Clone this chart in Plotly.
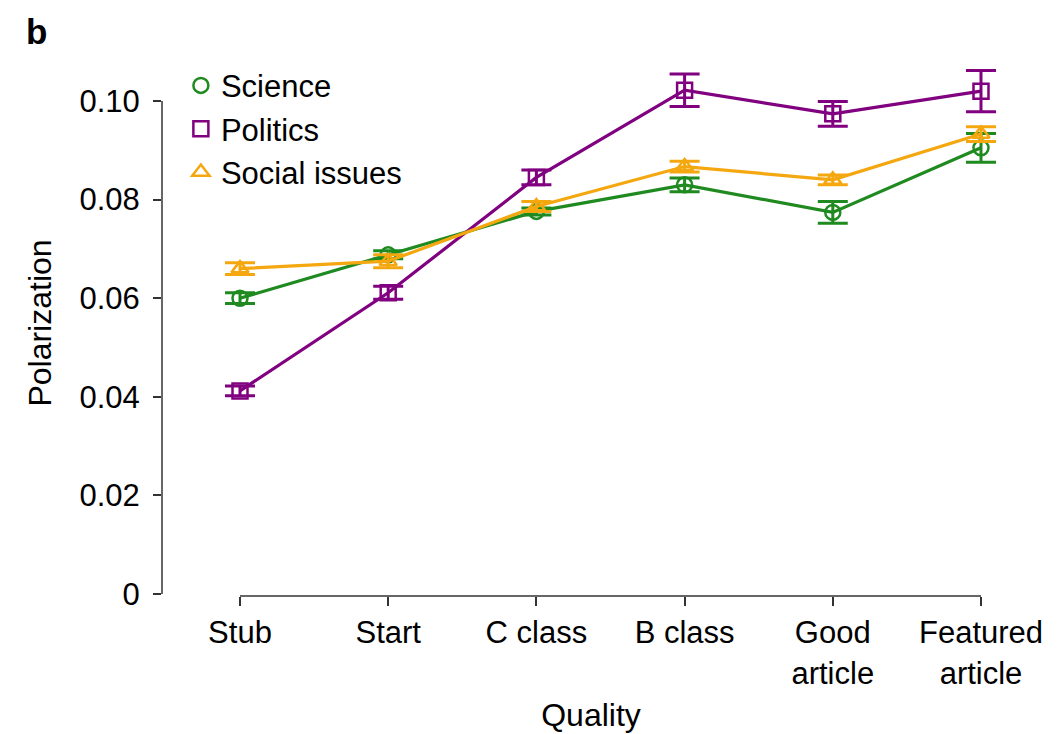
import plotly.graph_objects as go

categories = ["Stub", "Start", "C class", "B class", "Good<br>article", "Featured<br>article"]
x_pos = [0, 1, 2, 3, 4, 5]

science = [0.0600, 0.0688, 0.0776, 0.0830, 0.0774, 0.0905]
science_err = [0.0011, 0.0008, 0.0007, 0.0014, 0.0022, 0.0029]
politics = [0.0412, 0.0611, 0.0845, 0.1022, 0.0974, 0.1020]
politics_err = [0.0010, 0.0013, 0.0015, 0.0033, 0.0025, 0.0042]
social = [0.0660, 0.0675, 0.0786, 0.0867, 0.0840, 0.0933]
social_err = [0.0012, 0.0013, 0.0010, 0.0011, 0.0010, 0.0015]

y_ticks = [0, 0.02, 0.04, 0.06, 0.08, 0.10]
y_tick_text = ["0", "0.02", "0.04", "0.06", "0.08", "0.10"]

series = [
    ("Science", science, science_err, "#1f8a1f", "circle-open"),
    ("Politics", politics, politics_err, "#800080", "square-open"),
    ("Social issues", social, social_err, "#f5a70f", "triangle-up-open"),
]

FONT = "Liberation Sans, Arial, Helvetica, sans-serif"
AX = "#333333"

fig = go.Figure()
for name, vals, errs, col, sym in series:
    fig.add_trace(go.Scatter(
        x=x_pos, y=vals, mode="lines+markers", name=name, showlegend=False,
        line=dict(color=col, width=3.2),
        marker=dict(symbol=sym, size=15, color=col, line=dict(color=col, width=2.5)),
        error_y=dict(type="data", array=errs, visible=True, color=col, thickness=3, width=15),
    ))
for name, vals, errs, col, sym in series:
    fig.add_trace(go.Scatter(
        x=[None], y=[None], mode="markers", name=name, legendgroup=name,
        marker=dict(symbol=sym, size=15, color=col, line=dict(color=col, width=2.5)),
    ))

# R-style axis lines spanning only the data/tick range
fig.add_shape(type="line", xref="paper", x0=0, x1=0, yref="y", y0=0, y1=0.10,
              line=dict(color=AX, width=1.5))
fig.add_shape(type="line", xref="x", x0=0, x1=5, yref="paper", y0=0, y1=0,
              line=dict(color=AX, width=1.5))

fig.add_annotation(text="<b>b</b>", xref="paper", yref="paper", x=-0.161, y=1.073,
                   xanchor="left", yanchor="top", showarrow=False,
                   font=dict(size=35, color="black", family=FONT))

# page body adds an 8px offset; figure sized to fit the 1060x734 window
fig.update_layout(
    width=1052, height=726,
    margin=dict(l=154, r=40, t=42, b=138),
    plot_bgcolor="white", paper_bgcolor="white",
    font=dict(family=FONT, size=31, color="black"),
    legend=dict(x=0.022, y=0.984, xanchor="left", yanchor="top",
                font=dict(size=31), bgcolor="rgba(0,0,0,0)",
                tracegroupgap=0, itemwidth=30),
    xaxis=dict(range=[-0.5263, 5.2632], tickvals=x_pos, ticktext=categories,
               showgrid=False, zeroline=False, showline=False, automargin=False,
               ticks="outside", ticklen=9, tickwidth=1.5, tickcolor=AX,
               title=dict(text="Quality", standoff=14, font=dict(size=32)),
               tickfont=dict(size=31)),
    yaxis=dict(range=[-0.000406, 0.110345], tickvals=y_ticks, ticktext=y_tick_text,
               showgrid=False, zeroline=False, showline=False, automargin=False,
               ticks="outside", ticklen=8, tickwidth=1.5, tickcolor=AX,
               ticklabelstandoff=7,
               title=dict(text="Polarization", standoff=18, font=dict(size=32)),
               tickfont=dict(size=31)),
)

fig.write_html("out.html")
